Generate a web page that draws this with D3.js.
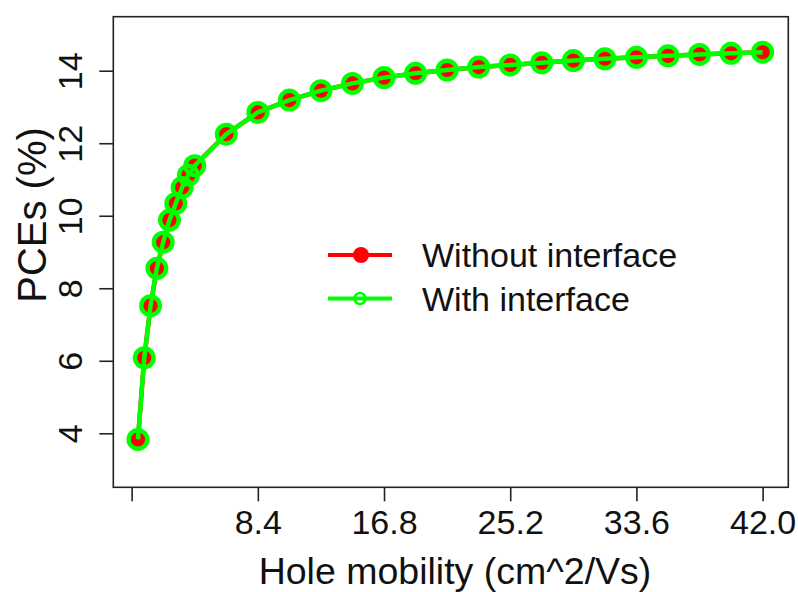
<!DOCTYPE html>
<html>
<head>
<meta charset="utf-8">
<script src="https://cdn.jsdelivr.net/npm/d3@7"></script>
<style>
  html, body { margin: 0; padding: 0; background: #fff; }
  svg { display: block; }
  text { font-family: "Liberation Sans", Arial, Helvetica, sans-serif; fill: #111; }
</style>
</head>
<body>
<svg id="chart" width="798" height="592"></svg>
<script>
// ---- data ----
const mobility = [0.42, 0.84, 1.26, 1.68, 2.1, 2.52, 2.94, 3.36, 3.78, 4.2,
                  6.3, 8.4, 10.5, 12.6, 14.7, 16.8, 18.9, 21, 23.1, 25.2,
                  27.3, 29.4, 31.5, 33.6, 35.7, 37.8, 39.9, 42];
const pceWithout = [3.83, 6.08, 7.52, 8.55, 9.27, 9.88, 10.34, 10.78, 11.12, 11.38,
                    12.25, 12.85, 13.19, 13.45, 13.65, 13.81, 13.93, 14.02, 14.10, 14.16,
                    14.22, 14.28, 14.33, 14.37, 14.41, 14.45, 14.48, 14.51];
const pceWith = [3.83, 6.08, 7.52, 8.55, 9.27, 9.88, 10.34, 10.78, 11.12, 11.38,
                 12.25, 12.85, 13.19, 13.45, 13.65, 13.81, 13.93, 14.02, 14.10, 14.16,
                 14.22, 14.28, 14.33, 14.37, 14.41, 14.45, 14.48, 14.51];
const xTicks = [0, 8.4, 16.8, 25.2, 33.6, 42.0];
const xTickLabels = ["", "8.4", "16.8", "25.2", "33.6", "42.0"];
const yTicks = [4, 6, 8, 10, 12, 14];
const seriesNames = ["Without interface", "With interface"];
const seriesColors = ["#ff0000", "#00ff00"];

// ---- layout ----
const svg = d3.select("#chart");
const L = 113.3, R = 788.3, T = 16.7, B = 487.3;
const x = d3.scaleLinear().domain([-1.22, 43.71]).range([L, R]);
const y = d3.scaleLinear().domain([2.51, 15.49]).range([B, T]);
const axisColor = "#222";

// box
svg.append("rect").attr("x", L).attr("y", T).attr("width", R - L).attr("height", B - T)
  .attr("fill", "none").attr("stroke", axisColor).attr("stroke-width", 1.6);

// x axis
const xAxis = d3.axisBottom(x).tickValues(xTicks).tickSize(14)
  .tickFormat((d, i) => xTickLabels[i]);
const gx = svg.append("g").attr("transform", `translate(0,${B})`).call(xAxis);
gx.select(".domain").remove();
gx.selectAll(".tick line").attr("stroke", axisColor).attr("stroke-width", 1.6);
gx.selectAll(".tick text").attr("font-size", 34).attr("fill", "#111")
  .attr("dy", null).attr("y", 47);

// y axis
const yAxis = d3.axisLeft(y).tickValues(yTicks).tickSize(14).tickFormat(d3.format("d"));
const gy = svg.append("g").attr("transform", `translate(${L},0)`).call(yAxis);
gy.select(".domain").remove();
gy.selectAll(".tick line").attr("stroke", axisColor).attr("stroke-width", 1.6);
gy.selectAll(".tick text").attr("font-size", 34).attr("fill", "#111")
  .attr("x", null).attr("dy", null).attr("text-anchor", "middle")
  .attr("transform", "translate(-31,0) rotate(-90)");

// axis titles
svg.append("text").attr("x", 455).attr("y", 584).attr("text-anchor", "middle")
  .attr("font-size", 37.5).text("Hole mobility (cm^2/Vs)");
svg.append("text").attr("transform", "translate(46,215) rotate(-90)")
  .attr("text-anchor", "middle").attr("font-size", 40).text("PCEs (%)");

// series
const line = d3.line().x((d, i) => x(mobility[i])).y(d => y(d));
const rows1 = pceWithout, rows2 = pceWith;

svg.append("path").datum(rows1).attr("d", line).attr("fill", "none")
  .attr("stroke", seriesColors[0]).attr("stroke-width", 4.5).attr("stroke-linejoin", "round");
svg.append("g").selectAll("circle").data(rows1).join("circle")
  .attr("cx", (d, i) => x(mobility[i])).attr("cy", d => y(d)).attr("r", 8)
  .attr("fill", seriesColors[0]);

svg.append("path").datum(rows2).attr("d", line).attr("fill", "none")
  .attr("stroke", seriesColors[1]).attr("stroke-width", 4.5).attr("stroke-linejoin", "round");
svg.append("g").selectAll("circle").data(rows2).join("circle")
  .attr("cx", (d, i) => x(mobility[i])).attr("cy", d => y(d)).attr("r", 9.3)
  .attr("fill", "none").attr("stroke", seriesColors[1]).attr("stroke-width", 4.4);

// legend
const lg = svg.append("g");
const legY = [255, 298.5];
seriesNames.forEach((name, i) => {
  lg.append("line").attr("x1", 328).attr("x2", 392).attr("y1", legY[i]).attr("y2", legY[i])
    .attr("stroke", seriesColors[i]).attr("stroke-width", 4);
  if (i === 0) {
    lg.append("circle").attr("cx", 361).attr("cy", legY[i]).attr("r", 8).attr("fill", seriesColors[i]);
  } else {
    lg.append("circle").attr("cx", 360).attr("cy", legY[i]).attr("r", 5.5)
      .attr("fill", "none").attr("stroke", seriesColors[i]).attr("stroke-width", 2.6);
  }
  lg.append("text").attr("x", 422).attr("y", legY[i] + 12).attr("font-size", 34).text(name);
});
</script>
</body>
</html>
